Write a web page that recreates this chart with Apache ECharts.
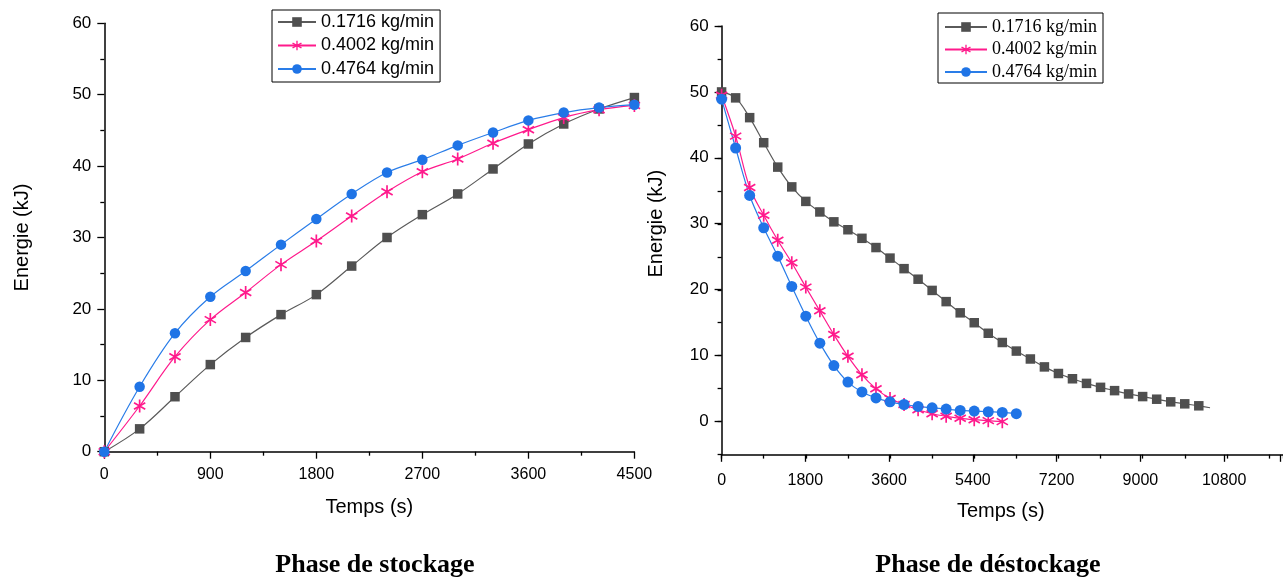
<!DOCTYPE html>
<html>
<head>
<meta charset="utf-8">
<script src="https://cdn.jsdelivr.net/npm/echarts@6/dist/echarts.min.js"></script>
<style>
  html, body { margin: 0; padding: 0; background: #ffffff; }
  #chart { width: 1283px; height: 579px; }
</style>
</head>
<body>
<div id="chart"></div>
<script>
// ---- data -------------------------------------------------------------
const seriesNames = ['0.1716 kg/min', '0.4002 kg/min', '0.4764 kg/min'];

// Phase de stockage: time (s) / stored energy (kJ)
const storeTime  = [0, 300, 600, 900, 1200, 1500, 1800, 2100, 2400, 2700, 3000, 3300, 3600, 3900, 4200, 4500];
const storeE1716 = [0, 3.2, 7.7, 12.2, 16.0, 19.2, 22.0, 26.0, 30.0, 33.2, 36.1, 39.6, 43.1, 45.9, 48.0, 49.6];
const storeE4002 = [0, 6.4, 13.3, 18.5, 22.3, 26.2, 29.5, 33.0, 36.4, 39.2, 41.0, 43.2, 45.1, 46.8, 47.9, 48.5];
const storeE4764 = [0, 9.1, 16.6, 21.7, 25.3, 29.0, 32.6, 36.1, 39.1, 40.9, 42.9, 44.7, 46.4, 47.5, 48.2, 48.6];

// Phase de déstockage: time (s) / remaining energy (kJ)
const destTime1716 = [0, 300, 600, 900, 1200, 1500, 1800, 2100, 2400, 2700, 3000, 3300, 3600, 3900, 4200, 4500,
  4800, 5100, 5400, 5700, 6000, 6300, 6600, 6900, 7200, 7500, 7800, 8100, 8400, 8700, 9000, 9300, 9600, 9900, 10200, 10440];
const destE1716 = [50.0, 49.1, 46.1, 42.3, 38.6, 35.6, 33.4, 31.8, 30.3, 29.1, 27.8, 26.4, 24.8, 23.2, 21.6, 19.9,
  18.2, 16.5, 15.0, 13.4, 12.0, 10.7, 9.5, 8.3, 7.3, 6.5, 5.8, 5.2, 4.7, 4.2, 3.8, 3.4, 3.0, 2.7, 2.4, 2.1];
const destTime4002 = [0, 300, 600, 900, 1200, 1500, 1800, 2100, 2400, 2700, 3000, 3300, 3600, 3900, 4200, 4500,
  4800, 5100, 5400, 5700, 6000];
const destE4002 = [49.5, 43.3, 35.5, 31.3, 27.5, 24.1, 20.4, 16.8, 13.2, 9.9, 7.1, 5.0, 3.5, 2.6, 1.8, 1.2,
  0.8, 0.5, 0.3, 0.15, 0.0];
const destTime4764 = [0, 300, 600, 900, 1200, 1500, 1800, 2100, 2400, 2700, 3000, 3300, 3600, 3900, 4200, 4500,
  4800, 5100, 5400, 5700, 6000, 6300];
const destE4764 = [48.9, 41.5, 34.3, 29.4, 25.1, 20.5, 16.0, 11.9, 8.5, 6.0, 4.5, 3.6, 3.0, 2.6, 2.3, 2.1,
  1.9, 1.7, 1.6, 1.5, 1.4, 1.2];

const yTickLabels = [0, 10, 20, 30, 40, 50, 60];

// ---- styling helpers ---------------------------------------------------
// six-armed asterisk marker built from three thin bars
function asteriskPath() {
  const c = 50, L = 50, w = 6.5;
  let d = '';
  [90, 30, 150].forEach(function (deg) {
    const a = deg * Math.PI / 180;
    const ux = Math.cos(a), uy = -Math.sin(a);
    const vx = Math.sin(a), vy = Math.cos(a);
    const p = [
      [c + L * ux + w * vx, c + L * uy + w * vy],
      [c + L * ux - w * vx, c + L * uy - w * vy],
      [c - L * ux - w * vx, c - L * uy - w * vy],
      [c - L * ux + w * vx, c - L * uy + w * vy]
    ];
    d += 'M' + p.map(function (q) { return q[0].toFixed(2) + ' ' + q[1].toFixed(2); }).join(' L') + ' Z ';
  });
  return 'path://' + d;
}
const STAR = asteriskPath();

const looks = [
  { marker: '#4f4f4f', line: '#5a5a5a', symbol: 'rect' },
  { marker: '#ff1a8c', line: '#ff1a8c', symbol: STAR },
  { marker: '#1f74e6', line: '#2a7de8', symbol: 'circle' }
];

function pairs(xs, ys) { return xs.map(function (x, i) { return [x, ys[i]]; }); }

function makeSeries(k, xs, ys, axis, sizes, hideLast) {
  const lk = looks[k];
  return {
    name: seriesNames[k],
    type: 'line',
    xAxisIndex: axis, yAxisIndex: axis,
    data: pairs(xs, ys),
    smooth: 0.35,
    symbol: lk.symbol,
    symbolKeepAspect: true,
    symbolSize: function (v, p) {
      return (hideLast && p.dataIndex === xs.length - 1) ? 0 : sizes[k];
    },
    showAllSymbol: true,
    itemStyle: { color: lk.marker, borderWidth: 0 },
    lineStyle: { color: lk.line, width: 1.2 },
    emphasis: { disabled: true },
    animation: false
  };
}

const FONT = '"Liberation Sans", Arial, sans-serif';
const SERIF = '"Liberation Serif", "Times New Roman", serif';
const axisLine = { show: true, onZero: false, lineStyle: { color: '#000', width: 1.5 } };
const tickStyle = { color: '#000', width: 1.3 };
const labelStyle = { color: '#000', fontSize: 16, fontFamily: FONT };
const nameStyle = { color: '#000', fontSize: 20, fontFamily: FONT };
const plain = function (v) { return String(v); };

// ---- chart -------------------------------------------------------------
const chart = echarts.init(document.getElementById('chart'), null, { renderer: 'canvas' });

const leftSizes = [9.5, 13, 10.5];
const rightSizes = [9.5, 13, 11];

const option = {
  backgroundColor: '#ffffff',
  animation: false,
  grid: [
    { left: 104.3, top: 23.3, width: 530.1, height: 428.4 },  // stockage
    { left: 721.6, top: 26, width: 561.7, height: 428.6 },    // déstockage, full y range (-5..60)
    { left: 721.6, top: 26, width: 561.7, height: 395.3 }     // déstockage, labelled range (0..60)
  ],
  xAxis: [
    {
      gridIndex: 0, type: 'value', min: 0, max: 4500, interval: 900,
      axisLine: axisLine,
      axisTick: { show: true, length: 7, lineStyle: tickStyle },
      minorTick: { show: true, splitNumber: 2, length: 4, lineStyle: tickStyle },
      axisLabel: Object.assign({ margin: 15, formatter: plain }, labelStyle),
      splitLine: { show: false },
      name: 'Temps (s)', nameLocation: 'middle', nameGap: 46, nameTextStyle: nameStyle
    },
    {
      gridIndex: 1, type: 'value', min: 0, max: 12000, interval: 900,
      axisLine: axisLine,
      axisTick: { show: true, length: 4, lineStyle: tickStyle },
      axisLabel: { show: false },
      splitLine: { show: false }
    },
    {
      gridIndex: 2, type: 'value', min: 0, max: 12000, interval: 1800, offset: 33.5,
      axisLine: { show: false, onZero: false },
      axisTick: { show: true, length: 7, lineStyle: tickStyle },
      axisLabel: Object.assign({
        margin: 18,
        formatter: function (v) { return v % 1800 === 0 ? String(v) : ''; }
      }, labelStyle),
      splitLine: { show: false },
      name: 'Temps (s)', nameLocation: 'middle', nameGap: 47, nameTextStyle: nameStyle
    }
  ],
  yAxis: [
    {
      gridIndex: 0, type: 'value', min: yTickLabels[0], max: yTickLabels[yTickLabels.length - 1], interval: 10,
      axisLine: axisLine,
      axisTick: { show: true, length: 7, lineStyle: tickStyle },
      minorTick: { show: true, splitNumber: 2, length: 4, lineStyle: tickStyle },
      axisLabel: Object.assign({ margin: 13 }, labelStyle, { fontSize: 17 }),
      splitLine: { show: false },
      name: 'Energie (kJ)', nameLocation: 'middle', nameGap: 72, nameTextStyle: nameStyle
    },
    {
      gridIndex: 1, type: 'value', min: -5, max: 60, interval: 5,
      axisLine: axisLine,
      axisTick: { show: true, length: 4, lineStyle: tickStyle },
      axisLabel: { show: false },
      splitLine: { show: false }
    },
    {
      gridIndex: 2, type: 'value', min: yTickLabels[0], max: yTickLabels[yTickLabels.length - 1], interval: 10,
      axisLine: { show: false, onZero: false },
      axisTick: { show: true, length: 7, lineStyle: tickStyle },
      axisLabel: Object.assign({ margin: 13 }, labelStyle, { fontSize: 17 }),
      splitLine: { show: false },
      name: 'Energie (kJ)', nameLocation: 'middle', nameGap: 55, nameTextStyle: nameStyle
    }
  ],
  legend: [
    {
      data: seriesNames, orient: 'vertical', left: 272, top: 10,
      borderColor: '#000', borderWidth: 1, padding: [3, 6, 4, 5],
      itemWidth: 38, itemHeight: 12, itemGap: 5.5,
      textStyle: { color: '#000', fontSize: 18, fontFamily: FONT, lineHeight: 18 },
      selectedMode: false
    },
    {
      data: seriesNames, orient: 'vertical', left: 938, top: 13,
      borderColor: '#000', borderWidth: 1, padding: [5, 6, 2, 6],
      itemWidth: 42, itemHeight: 12, itemGap: 4.5,
      textStyle: { color: '#000', fontSize: 18, fontFamily: SERIF, lineHeight: 18 },
      selectedMode: false
    }
  ],
  graphic: [
    { type: 'text', x: 375, y: 565, style: { text: 'Phase de stockage', fill: '#000',
      font: 'bold 26px ' + SERIF, textAlign: 'center', textVerticalAlign: 'middle' } },
    { type: 'text', x: 988, y: 565, style: { text: 'Phase de déstockage', fill: '#000',
      font: 'bold 26px ' + SERIF, textAlign: 'center', textVerticalAlign: 'middle' } }
  ],
  series: [
    makeSeries(0, storeTime, storeE1716, 0, leftSizes, false),
    makeSeries(1, storeTime, storeE4002, 0, leftSizes, false),
    makeSeries(2, storeTime, storeE4764, 0, leftSizes, false),
    makeSeries(0, destTime1716, destE1716, 1, rightSizes, true),
    makeSeries(1, destTime4002, destE4002, 1, rightSizes, false),
    makeSeries(2, destTime4764, destE4764, 1, rightSizes, false)
  ]
};

chart.setOption(option);
</script>
</body>
</html>
